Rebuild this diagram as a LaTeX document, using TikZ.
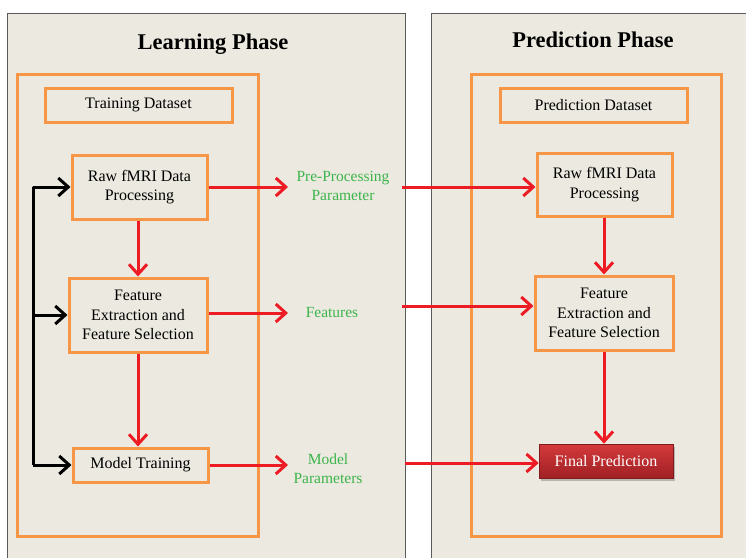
\documentclass[tikz,border=0pt]{standalone}
\usepackage{fontspec}
\setmainfont{Liberation Serif}
\usetikzlibrary{arrows.meta,shadows}
\definecolor{panelbg}{RGB}{236,234,224}
\definecolor{panelline}{RGB}{90,90,90}
\definecolor{orng}{RGB}{247,150,70}
\definecolor{redarr}{RGB}{237,28,36}
\definecolor{grn}{RGB}{60,180,75}
\definecolor{fptop}{RGB}{212,58,60}
\definecolor{fpbot}{RGB}{160,32,36}
\tikzset{
  panel/.style={draw=panelline, line width=1pt, fill=panelbg},
  frame/.style={draw=orng, line width=3pt},
  box/.style={draw=orng, line width=3pt, fill=panelbg, align=center, inner sep=0pt,
    font=\fontsize{16}{19.5}\selectfont},
  title/.style={font=\fontsize{22.5}{26}\selectfont\bfseries},
  glabel/.style={text=grn, align=center, font=\fontsize{15.5}{19}\selectfont},
  redtip/.tip={Straight Barb[length=10pt,width=18pt,line width=3pt]},
  redarrow/.style={draw=redarr, line width=3pt, arrows={-redtip}},
  blkarrow/.style={draw=black, line width=3pt, line join=round, arrows={-redtip}},
  fpbox/.style={top color=fptop, bottom color=fpbot, draw=fpbot!80!black, line width=0.6pt,
    text=white, inner sep=0pt, font=\fontsize{16}{19}\selectfont,
    drop shadow={shadow xshift=1.5pt, shadow yshift=-2.5pt, opacity=0.4, fill=black!60}}
}
\begin{document}
\begin{tikzpicture}[x=1pt,y=-1pt]
\useasboundingbox[fill=white] (0,0) rectangle (746,557);
% panels
\path[panel] (7.5,13) rectangle (405,565);
\path[panel] (431,13) rectangle (755,565);
\node[title] (tL) at (213,44) {Learning Phase};
\node[title] (tR) at (593,40) {Prediction Phase};
% orange frames
\path[frame] (17,74) rectangle (258,536);
\path[frame] (471,74) rectangle (721,536);
% left boxes
\node[box, minimum width=187pt, minimum height=34pt] (tdL) at (138.5,105) {Training Dataset};
\node[box, minimum width=135pt, minimum height=64pt] (rawL) at (139.5,187) {Raw fMRI Data\\Processing};
\node[box, minimum width=138pt, minimum height=74pt] (featL) at (138,315) {Feature\\Extraction and\\Feature Selection};
\node[box, minimum width=135pt, minimum height=34pt] (modL) at (140.5,465) {Model Training};
% right boxes
\node[box, minimum width=187pt, minimum height=34pt] (tdR) at (593.5,105) {Prediction Dataset};
\node[box, minimum width=135pt, minimum height=63pt] (rawR) at (604.5,184.5) {Raw fMRI Data\\Processing};
\node[box, minimum width=138pt, minimum height=74pt] (featR) at (604,313) {Feature\\Extraction and\\Feature Selection};
\node[fpbox, minimum width=134pt, minimum height=34pt] (fp) at (606,461) {Final Prediction};
% green labels
\node[glabel] (ppl) at (343,185.5) {Pre-Processing\\Parameter};
\node[glabel] (fl) at (332,312) {Features};
\node[glabel] (mpl) at (328,468.5) {Model\\Parameters};
% coordinates
\coordinate (e1) at (288,187);
\coordinate (e2) at (288,313);
\coordinate (e3) at (288,465);
\coordinate (s1) at (402,187);
\coordinate (s2) at (402,306);
\coordinate (s3) at (405,463);
\coordinate (bb) at (33,465);
% red arrows left
\draw[redarrow] (rawL.east |- e1) -- (e1);
\draw[redarrow] (featL.east |- e2) -- (e2);
\draw[redarrow] (modL.east |- e3) -- (e3);
\draw[redarrow] (rawL.south -| featL.north) -- (featL.north);
\draw[redarrow] (featL.south) -- (featL.south |- modL.north);
% red arrows right
\draw[redarrow] (s1) -- (s1 -| rawR.west);
\draw[redarrow] (s2) -- (s2 -| featR.west);
\draw[redarrow] (s3) -- (s3 -| fp.west);
\draw[redarrow] (featR.north |- rawR.south) -- (featR.north);
\draw[redarrow] (featR.south) -- (featR.south |- fp.north);
% black feedback
\draw[blkarrow] (bb) |- (rawL.west);
\draw[blkarrow] (bb |- featL.west) -- (featL.west);
\draw[blkarrow] (bb) -- (modL.west);
\end{tikzpicture}
\end{document}
